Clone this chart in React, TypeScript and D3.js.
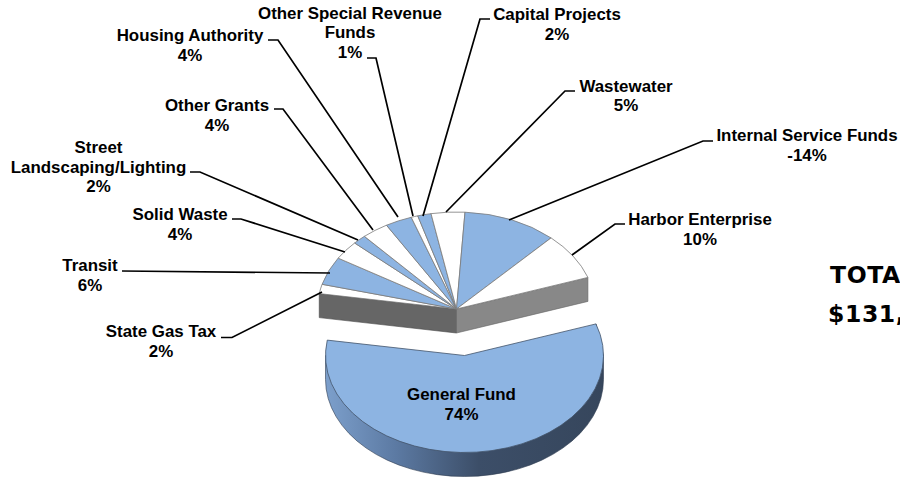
import React from "react";
import * as d3 from "d3";

const categories = ["General Fund","State Gas Tax","Transit","Solid Waste","Street Landscaping/Lighting","Other Grants","Housing Authority","Other Special Revenue Funds","Capital Projects","Wastewater","Internal Service Funds","Harbor Enterprise"];
const percents = [74,2,6,4,2,4,4,1,2,5,-14,10];
const labelLines = [["General Fund"],["State Gas Tax"],["Transit"],["Solid Waste"],["Street","Landscaping/Lighting"],["Other Grants"],["Housing Authority"],["Other Special Revenue","Funds"],["Capital Projects"],["Wastewater"],["Internal Service Funds"],["Harbor Enterprise"]];
// label centre x, first-line baseline y
const labelX = [461.5,161,90,180,98.5,217,190,350,557,626,807,700];
const labelY = [400,337,271,220,153,111,41,18.5,20,91.5,141,225];
// leader polylines from label to pie
const leaders: [number,number][][] = [
  [],
  [[221,337.5],[232,337.5],[322,292]],
  [[122,271],[330,273]],
  [[232,219],[241,219],[345,252]],
  [[190,172],[200,172],[358,240]],
  [[274,109],[283,109],[373,230]],
  [[268,40],[278,40],[398,217]],
  [[367,58],[376,58],[413,216]],
  [[490,19],[480,19],[423,216]],
  [[575,91],[565,91],[446,212]],
  [[713,141],[703,141],[509,220]],
  [[625,224],[615,224],[572,255]],
];
const rx = 139, ry = 97, depth = 24;
const toRad = (d:number)=>d*Math.PI/180;
const pie = d3.pie<number>().value(v=>Math.abs(v)).sort(null).startAngle(toRad(71)).endAngle(toRad(431));
const arcs = pie(percents);
const pt = (a:number,cx:number,cy:number):[number,number]=>[cx+rx*Math.sin(a),cy-ry*Math.cos(a)];
const sectorPath = (s:number,e:number,cx:number,cy:number)=>{
  const [x0,y0]=pt(s,cx,cy),[x1,y1]=pt(e,cx,cy);
  return `M${cx},${cy}L${x0},${y0}A${rx},${ry} 0 ${e-s>Math.PI?1:0} 1 ${x1},${y1}Z`;
};
const fills = ["#8DB4E2","#FFFFFF"];
const line = d3.line();

export default function App(){
  const g = arcs[0];
  const cx0=464.5, cy0=355.5, cx1=456.5, cy1=309;
  const upStart = arcs[1].startAngle, upEnd = arcs[arcs.length-1].endAngle;
  const [lx,ly]=pt(upStart,cx1,cy1); const [rxp,ryp]=pt(upEnd,cx1,cy1);
  const [gx0,gy0]=pt(g.startAngle,cx0,cy0);
  const lft = pt(Math.PI*3/2,cx0,cy0)[0], rgt = pt(Math.PI/2,cx0,cy0)[0];
  // outer wall of General Fund: visible part of the rim
  const wall = `M${gx0},${gy0}A${rx},${ry} 0 0 1 ${lft},${cy0}L${lft},${cy0+depth}A${rx},${ry} 0 0 0 ${rgt},${cy0+depth}L${rgt},${cy0}Z`;
  return (
    <svg width={900} height={478} style={{position:"absolute",left:0,top:0,background:"#fff"}} fontFamily="'Liberation Sans',Arial,sans-serif">
      <defs>
        <linearGradient id="rim" gradientUnits="userSpaceOnUse" x1={326} x2={604} y1={0} y2={0}>
          <stop offset="0" stopColor="#7C9FCB"/>
          <stop offset="0.25" stopColor="#5C7AA3"/>
          <stop offset="0.55" stopColor="#3C4E68"/>
          <stop offset="1" stopColor="#36465C"/>
        </linearGradient>
      </defs>
      {/* General Fund */}
      <path d={wall} fill="url(#rim)" stroke="#2f3d50" strokeWidth={0.6}/>
      <path d={sectorPath(g.startAngle,g.endAngle,cx0,cy0)} fill={fills[0]} stroke="#44546A" strokeWidth={0.8}/>
      {/* walls of the exploded group */}
      <path d={`M${lx},${ly}L${cx1},${cy1}L${cx1},${cy1+depth}L${lx},${ly+depth}Z`} fill="#666666" stroke="#444" strokeWidth={0.6}/>
      <path d={`M${rxp},${ryp}L${cx1},${cy1}L${cx1},${cy1+depth}L${rxp},${ryp+depth}Z`} fill="#888888" stroke="#666" strokeWidth={0.6}/>
      {arcs.slice(1).map((a,i)=>(
        <path key={i} d={sectorPath(a.startAngle,a.endAngle,cx1,cy1)} fill={fills[(i+1)%2]} stroke="#7a7a7a" strokeWidth={0.8}/>
      ))}
      {leaders.map((l,i)=>l.length? <path key={i} d={line(l)!} fill="none" stroke="#000" strokeWidth={1.7}/>:null)}
      <g fontWeight="bold" fontSize={16.9} textAnchor="middle" fill="#000">
        {categories.map((c,i)=>{
          const lines=[...labelLines[i],`${percents[i]}%`];
          return <text key={c} x={labelX[i]} y={labelY[i]}>{lines.map((t,j)=><tspan key={j} x={labelX[i]} dy={j?19.6:0}>{t}</tspan>)}</text>;
        })}
      </g>
      <g fontWeight="bold" fontSize={23.5} letterSpacing={0.6} fontFamily="'DejaVu Sans',sans-serif" fill="#000">
        <text x={830} y={283}>TOTAL BUDGET</text>
        <text x={828} y={322}>$131,000,000</text>
      </g>
    </svg>
  );
}
